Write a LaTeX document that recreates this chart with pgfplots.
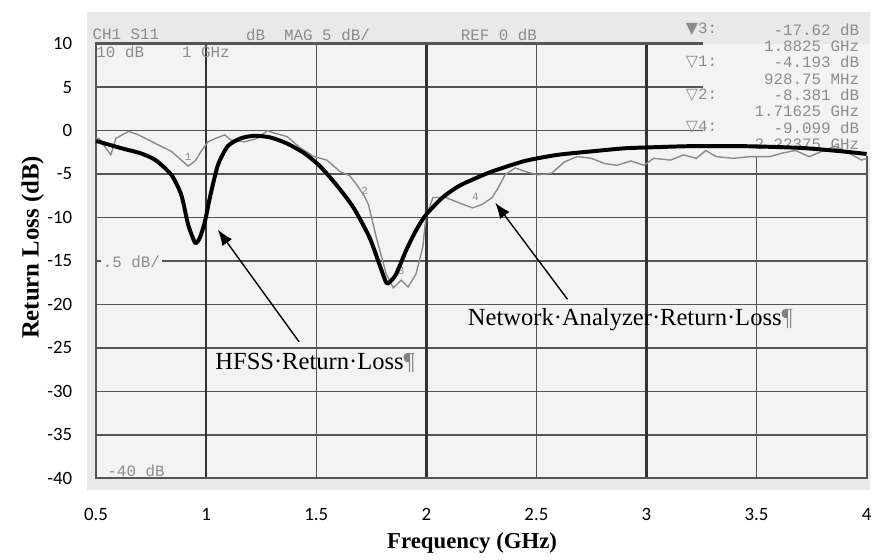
\documentclass[border=0pt]{standalone}
\usepackage{fontspec}
\setmainfont{Liberation Serif}
\newfontfamily\tickfont{Carlito}
\newfontfamily\vnafont{Liberation Mono}
\newfontfamily\symfont{DejaVu Sans}
\usepackage{pgfplots}
\pgfplotsset{compat=1.18}
\usetikzlibrary{arrows.meta}

\definecolor{vnagrid}{HTML}{555555}
\definecolor{vnatext}{HTML}{8C8C8C}
\definecolor{meas}{HTML}{8A8A8A}
\definecolor{bgout}{HTML}{E9E9E9}
\definecolor{bgin}{HTML}{F3F3F3}

% HFSS simulation (black)
\pgfplotstableread{
f rl
0.50 -1.2
0.617 -2.05
0.70 -2.6
0.770 -3.4
0.842 -5.1
0.887 -7.4
0.918 -10.8
0.950 -12.9
0.972 -12.3
0.995 -10.4
1.017 -7.7
1.053 -4.0
1.098 -1.8
1.157 -0.9
1.22 -0.6
1.292 -0.8
1.368 -1.5
1.445 -2.6
1.517 -4.1
1.593 -6.3
1.67 -8.9
1.742 -12.3
1.787 -15.4
1.818 -17.5
1.835 -17.4
1.863 -16.5
1.908 -13.8
1.953 -11.5
1.998 -9.7
2.074 -7.7
2.147 -6.4
2.223 -5.5
2.30 -4.7
2.448 -3.5
2.596 -2.8
2.75 -2.4
2.898 -2.05
3.0 -1.95
3.2 -1.8
3.44 -1.8
3.7 -2.0
3.89 -2.4
4.0 -2.7
}\hfsstable

% network analyzer trace (grey)
\pgfplotstableread{
f rl
0.50 -1.0
0.513 -0.9
0.536 -1.7
0.567 -2.8
0.59 -0.9
0.648 -0.1
0.693 -0.5
0.77 -1.5
0.842 -2.4
0.887 -3.4
0.918 -4.1
0.95 -3.5
0.977 -2.4
1.008 -1.3
1.053 -0.8
1.085 -0.5
1.112 -1.1
1.175 -1.3
1.233 -0.9
1.278 0.0
1.31 -0.3
1.368 -0.7
1.427 -2.0
1.49 -3.0
1.548 -3.4
1.607 -4.7
1.652 -5.2
1.683 -6.2
1.715 -7.4
1.737 -8.5
1.773 -12.3
1.818 -16.5
1.85 -18.1
1.886 -17.2
1.917 -18.0
1.953 -16.5
1.984 -13.4
1.998 -10.0
2.03 -7.7
2.088 -7.7
2.147 -8.3
2.21 -8.9
2.254 -8.5
2.30 -7.7
2.326 -6.6
2.358 -5.1
2.403 -4.3
2.448 -4.7
2.506 -5.1
2.57 -4.9
2.628 -3.6
2.686 -3.0
2.75 -3.2
2.81 -3.8
2.866 -4.0
2.93 -3.5
2.988 -4.0
3.033 -3.2
3.11 -3.4
3.168 -2.8
3.226 -3.2
3.27 -2.3
3.316 -3.0
3.393 -3.2
3.47 -3.0
3.56 -3.0
3.617 -2.6
3.676 -2.3
3.74 -3.0
3.797 -2.4
3.856 -1.8
3.92 -2.6
3.977 -3.4
4.0 -3.2
}\meastable

\begin{document}
\begin{tikzpicture}
\begin{axis}[
  set layers=standard,
  scale only axis,
  width=389pt, height=219.5pt,
  xmin=0.5, xmax=4, ymin=-40, ymax=10,
  xtick={0.5,1,1.5,2,2.5,3,3.5,4},
  ytick={-40,-35,-30,-25,-20,-15,-10,-5,0,5,10},
  major tick length=0pt,
  grid=major,
  grid style={vnagrid, line width=0.7pt},
  extra x ticks={1,2,3},
  extra x tick labels={},
  extra x tick style={grid=major, grid style={black!80, line width=1.3pt}},
  axis line style={vnagrid, line width=1.1pt},
  clip=false,
  tick label style={font=\tickfont\fontsize{9.5}{10}\selectfont,
    /pgf/number format/assume math mode=true},
  yticklabel style={xshift=-8.5pt},
  xticklabel style={yshift=-11.5pt},
  xlabel={Frequency (GHz)},
  ylabel={Return Loss (dB)},
  every axis x label/.style={at={(axis description cs:0.488,-0.148)},
    anchor=center, font=\bfseries\fontsize{11.5}{13}\selectfont},
  every axis y label/.style={at={(axis description cs:-0.0823,0.531)},
    rotate=90, anchor=center, font=\bfseries\fontsize{12.5}{14}\selectfont},
]
% page size and analyzer print background
\path (rel axis cs:-0.1247,-0.1822) rectangle (rel axis cs:1.0039,1.1002);
\begin{pgfonlayer}{axis background}
\fill[bgout] (rel axis cs:-0.0116,-0.0273) rectangle (rel axis cs:1.0039,1.0729);
\fill[bgin] (rel axis cs:0,0) rectangle (rel axis cs:1,1);
\end{pgfonlayer}
% marker readout area hides the grid
\begin{pgfonlayer}{pre main}
\fill[bgin] (axis cs:3.257,-2.96) rectangle (rel axis cs:1.0039,1);
\fill[bgout] (axis cs:3.257,10) rectangle (rel axis cs:1.0039,1.0729);
\end{pgfonlayer}

% analyzer screen texts
\begin{scope}[every node/.style={text=vnatext, inner sep=0pt,
    font=\vnafont\fontsize{8}{9}\selectfont}]
\node[anchor=west] at (axis cs:0.482,11.05) {CH1 S11};
\node[anchor=west] at (axis cs:1.18,11.05) {dB\ \ MAG 5 dB/};
\node[anchor=west] at (axis cs:2.155,11.05) {REF 0 dB};
\node[anchor=west] at (axis cs:0.50,9.0) {10 dB\ \ \ \ 1 GHz};
\node[anchor=west, fill=bgin, inner sep=1pt] at (axis cs:0.52,-15.1) {.5 dB/};
\node[anchor=west] at (axis cs:0.55,-39.1) {-40 dB};
\node[anchor=west] at (axis cs:3.177,11.6) {{\symfont ▼}3:};
\node[anchor=east] at (axis cs:3.968,11.6) {-17.62 dB};
\node[anchor=east] at (axis cs:3.968,9.68) {1.8825 GHz};
\node[anchor=west] at (axis cs:3.177,7.86) {{\symfont ▽}1:};
\node[anchor=east] at (axis cs:3.968,7.86) {-4.193 dB};
\node[anchor=east] at (axis cs:3.968,5.92) {928.75 MHz};
\node[anchor=west] at (axis cs:3.177,4.1) {{\symfont ▽}2:};
\node[anchor=east] at (axis cs:3.968,4.1) {-8.381 dB};
\node[anchor=east] at (axis cs:3.968,2.16) {1.71625 GHz};
\node[anchor=west] at (axis cs:3.177,0.34) {{\symfont ▽}4:};
\node[anchor=east] at (axis cs:3.968,0.34) {-9.099 dB};
\node[anchor=east] at (axis cs:3.968,-1.6) {2.22375 GHz};
\end{scope}
\begin{scope}[every node/.style={text=vnatext, inner sep=0pt,
    font=\vnafont\fontsize{5.5}{6}\selectfont}]
\node at (axis cs:0.918,-3.0) {1};
\node at (axis cs:1.72,-6.9) {2};
\node at (axis cs:1.886,-16.2) {3};
\node at (axis cs:2.223,-7.6) {4};
\end{scope}

\addplot[meas, line width=0.7pt] table[x=f, y=rl] {\meastable};
\addplot[black, line width=2pt, smooth, tension=0.4] table[x=f, y=rl] {\hfsstable};

% annotations
\draw[-{Latex[length=8pt,width=6pt]}, line width=0.7pt] (axis cs:1.422,-24.3) -- (axis cs:1.053,-11.4);
\draw[-{Latex[length=8pt,width=6pt]}, line width=0.7pt] (axis cs:2.641,-19.4) -- (axis cs:2.313,-8.3);
\node[anchor=west, inner sep=0pt, font=\fontsize{12.4}{14}\selectfont]
  at (axis cs:1.04,-26.7) {HFSS·Return·Loss{\color{gray}¶}};
\node[anchor=west, inner sep=0pt, font=\fontsize{12.4}{14}\selectfont]
  at (axis cs:2.187,-21.8) {Network·Analyzer·Return·Loss{\color{gray}¶}};
\end{axis}
\end{tikzpicture}
\end{document}
